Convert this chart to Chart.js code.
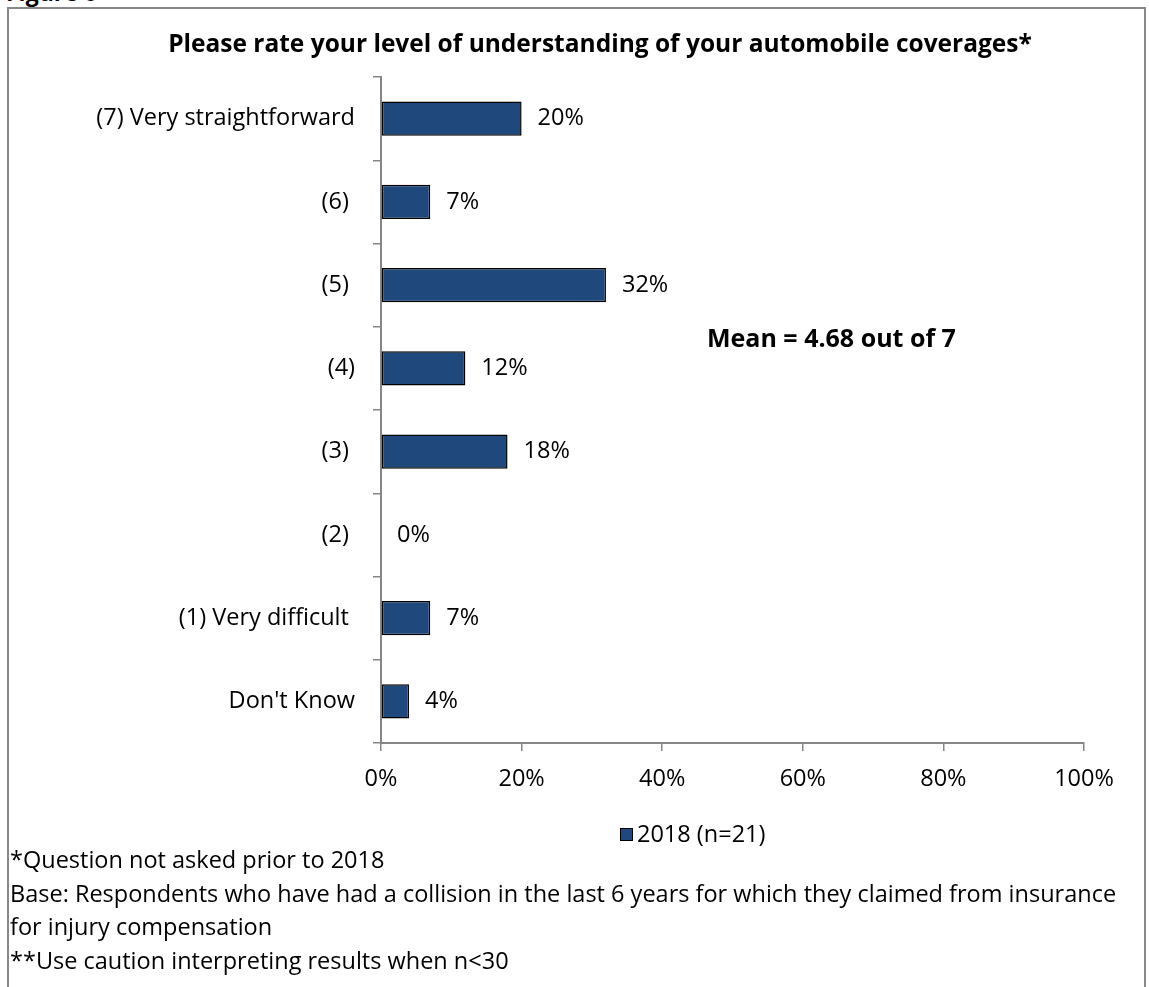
<!DOCTYPE html>
<html>
<head>
<meta charset="utf-8">
<script src="https://cdn.jsdelivr.net/npm/chart.js@4/dist/chart.umd.min.js"></script>
<style>
  html, body { margin: 0; padding: 0; background: #fff; overflow: hidden; }
  body { width: 1149px; height: 987px; position: relative; font-family: "Open Sans", sans-serif; }
  #frame { position: absolute; left: 7px; top: 7px; width: 1139px; height: 990px; border: 2px solid #888; border-bottom: none; box-sizing: border-box; }
  #fig { position: absolute; left: 6px; top: -19px; font-weight: bold; font-size: 23px; line-height: 1; }
  #chart { position: absolute; left: 8px; top: 8px; }
  #notes { position: absolute; left: 10px; top: 843px; font-size: 23.5px; line-height: 33.5px; color: #000; white-space: nowrap; }
</style>
</head>
<body>
<div id="fig">Figure 6</div>
<div id="frame"></div>
<canvas id="chart" width="1139" height="840"></canvas>
<div id="notes">
  <div>*Question not asked prior to 2018</div>
  <div>Base: Respondents who have had a collision in the last 6 years for which they claimed from insurance</div>
  <div>for injury compensation</div>
  <div>**Use caution interpreting results when n&lt;30</div>
</div>
<script>
// some labels carry a trailing space, as in the source sheet
const categories = [
  "(7) Very straightforward",
  "(6) ",
  "(5) ",
  "(4)",
  "(3) ",
  "(2) ",
  "(1) Very difficult ",
  "Don't Know",
];
const values2018 = [20, 7, 32, 12, 18, 0, 7, 4];
const seriesName = "2018 (n=21)";
const xTicks = [0, 20, 40, 60, 80, 100];

const chartTitle = "Please rate your level of understanding of your automobile coverages*";
const meanNote = "Mean = 4.68 out of 7";

const FONT = "'Open Sans', sans-serif";
const TEXT_SIZE = 23.5;
const BAR_BLUE = "#1F497D";
const AXIS_GREY = "#868686";

// percentage next to the end of each bar, plus title, mean note and legend
const extrasPlugin = {
  id: "extras",
  afterDatasetsDraw(chart) {
    const ctx = chart.ctx;
    const area = chart.chartArea;
    const meta = chart.getDatasetMeta(0);
    ctx.save();
    ctx.fillStyle = "#000";
    ctx.font = TEXT_SIZE + "px " + FONT;
    ctx.textAlign = "left";
    ctx.textBaseline = "middle";
    meta.data.forEach((bar, i) => {
      ctx.fillText(values2018[i] + "%", bar.x + 16, bar.y);
    });

    ctx.font = "bold 24.5px " + FONT;
    ctx.textAlign = "center";
    ctx.fillText(chartTitle, 592, 37);

    ctx.font = "bold 25px " + FONT;
    ctx.textAlign = "left";
    ctx.fillText(meanNote, area.left + 326, 332);

    // legend
    const ds = chart.data.datasets[0];
    const lx = area.left + 239;
    const ly = 826;
    ctx.fillStyle = ds.backgroundColor;
    ctx.fillRect(lx, ly - 6, 13, 13);
    ctx.strokeStyle = "#000";
    ctx.lineWidth = 1;
    ctx.strokeRect(lx + 0.5, ly - 5.5, 12, 12);
    ctx.fillStyle = "#000";
    ctx.font = TEXT_SIZE + "px " + FONT;
    ctx.fillText(ds.label, lx + 17, ly + 1);
    ctx.restore();
  },
};

new Chart(document.getElementById("chart").getContext("2d"), {
  type: "bar",
  data: {
    labels: categories,
    datasets: [
      {
        label: seriesName,
        data: values2018,
        backgroundColor: BAR_BLUE,
        borderColor: "#000",
        borderWidth: 1.5,
        borderSkipped: false,
        categoryPercentage: 1,
        barPercentage: 0.41,
      },
    ],
  },
  options: {
    indexAxis: "y",
    responsive: false,
    animation: false,
    devicePixelRatio: 1,
    layout: { padding: { top: 69, right: 63, bottom: 45, left: 0 } },
    plugins: {
      legend: { display: false },
      title: { display: false },
      tooltip: { enabled: false },
    },
    scales: {
      y: {
        afterFit(scale) { scale.width = 373; },
        grid: { drawOnChartArea: false, offset: true, tickLength: 8, color: AXIS_GREY, lineWidth: 1.5 },
        border: { color: AXIS_GREY, width: 2 },
        ticks: { color: "#000", padding: 18, font: { family: FONT, size: TEXT_SIZE } },
      },
      x: {
        min: 0,
        max: 100,
        afterFit(scale) { scale.height = 60; },
        afterBuildTicks(scale) { scale.ticks = xTicks.map((v) => ({ value: v })); },
        grid: { drawOnChartArea: false, tickLength: 8, color: AXIS_GREY, lineWidth: 1.5 },
        border: { color: AXIS_GREY, width: 2 },
        ticks: {
          color: "#000",
          padding: 14,
          font: { family: FONT, size: TEXT_SIZE },
          callback: (v) => v + "%",
        },
      },
    },
  },
  plugins: [extrasPlugin],
});
</script>
</body>
</html>
